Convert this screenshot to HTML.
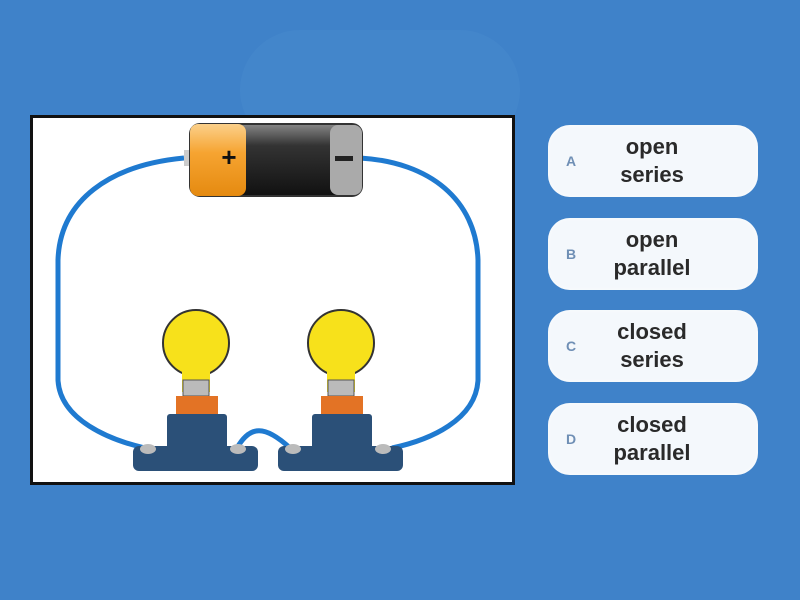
<!DOCTYPE html>
<html><head><style>
body{margin:0;width:800px;height:600px;background:#3f82c9;overflow:hidden;position:relative;font-family:"Liberation Sans",sans-serif}
.card{position:absolute;left:548px;width:210px;height:72px;background:#f4f8fc;border-radius:22px;box-shadow:0 0 6px rgba(255,255,255,.6) inset}
.card .l{position:absolute;left:18px;top:0;line-height:72px;font-size:14px;font-weight:bold;color:#6f8fb5}
.card .t{position:absolute;left:0;width:208px;top:8px;text-align:center;font-size:22px;font-weight:bold;color:#2a2a2a;line-height:28px}
</style></head><body>
<div style="position:absolute;left:240px;top:30px;width:280px;height:120px;border-radius:60px;background:#4a8bd0;opacity:.4"></div>
<svg style="position:absolute;left:0;top:0" width="800" height="600">
<rect x="31.5" y="116.5" width="482" height="367" fill="#fff" stroke="#111" stroke-width="3"/>
<g fill="none" stroke="#1f7ad0" stroke-width="5">
<path d="M184 158 C110 165 60 200 58 260 L58 380 C60 420 110 440 145 448"/>
<path d="M360 158 C430 162 476 200 478 260 L478 380 C476 420 430 440 392 448"/>
<path d="M237 448 C250 425 265 425 290 448"/>
</g>
<defs><linearGradient id="bl" x1="0" y1="0" x2="0" y2="1"><stop offset="0" stop-color="#888"/><stop offset=".3" stop-color="#333"/><stop offset="1" stop-color="#111"/></linearGradient>
<linearGradient id="or" x1="0" y1="0" x2="0" y2="1"><stop offset="0" stop-color="#fbd08a"/><stop offset=".4" stop-color="#f6a431"/><stop offset="1" stop-color="#e58a10"/></linearGradient></defs>
<rect x="184" y="150" width="10" height="16" fill="#ccc"/>
<rect x="190" y="124" width="172" height="72" rx="10" fill="url(#bl)" stroke="#333" stroke-width="2"/>
<rect x="190" y="124" width="56" height="72" rx="8" fill="url(#or)"/>
<rect x="330" y="125" width="32" height="70" rx="8" fill="#aaa"/>
<text x="229" y="166" font-size="26" font-weight="bold" text-anchor="middle" fill="#111">+</text>
<rect x="335" y="156" width="18" height="5" fill="#222"/>
<g id="b">
<circle cx="196" cy="343" r="33" fill="#f7e11b" stroke="#333" stroke-width="2"/>
<rect x="182" y="370" width="28" height="22" fill="#f7e11b"/>
<rect x="183" y="380" width="26" height="16" fill="#bbb" stroke="#555"/>
<rect x="176" y="396" width="42" height="20" fill="#e37325"/>
<rect x="167" y="414" width="60" height="36" rx="3" fill="#2b5078"/>
<rect x="133" y="446" width="125" height="25" rx="6" fill="#2b5078"/>
<ellipse cx="148" cy="449" rx="8" ry="5" fill="#bbb"/>
<ellipse cx="238" cy="449" rx="8" ry="5" fill="#bbb"/>
</g>
<use href="#b" x="145"/>
</svg>
<div class="card" style="top:125px"><div class="l">A</div><div class="t">open<br>series</div></div>
<div class="card" style="top:218px"><div class="l">B</div><div class="t">open<br>parallel</div></div>
<div class="card" style="top:310px"><div class="l">C</div><div class="t">closed<br>series</div></div>
<div class="card" style="top:403px"><div class="l">D</div><div class="t">closed<br>parallel</div></div>
</body></html>
